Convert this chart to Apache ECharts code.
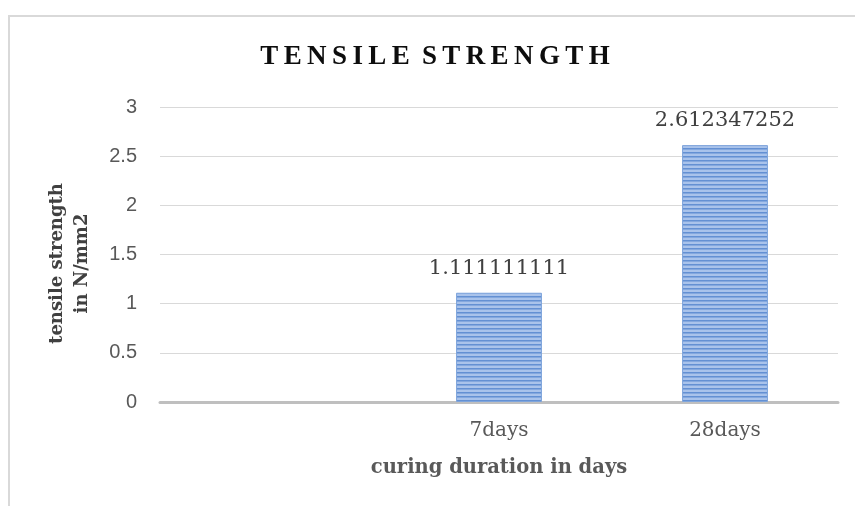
<!DOCTYPE html>
<html>
<head>
<meta charset="utf-8">
<script src="https://cdn.jsdelivr.net/npm/echarts@6/dist/echarts.min.js"></script>
<style>
  html, body { margin: 0; padding: 0; background: #fff; }
  #chart { width: 855px; height: 506px; }
</style>
</head>
<body>
<div id="chart"></div>
<script>
// chart data
var categories = ['', '7days', '28days']
var strengthValues = [null, 1.111111111, 2.612347252]
var yTicks = { min: 0, max: 3, interval: 0.5 }

// horizontal stripe fill like the original bars
function stripePattern() {
  var c = document.createElement('canvas')
  c.width = 4
  c.height = 4
  var ctx = c.getContext('2d')
  ctx.fillStyle = '#a9c3eb'
  ctx.fillRect(0, 0, 4, 4)
  ctx.fillStyle = '#6390d3'
  ctx.fillRect(0, 0, 4, 1)
  ctx.fillStyle = '#84a8de'
  ctx.fillRect(0, 1, 4, 1)
  return c
}

var chart = echarts.init(document.getElementById('chart'))
chart.setOption({
  animation: false,
  graphic: [{
    type: 'rect',
    shape: { x: 9, y: 16, width: 900, height: 600 },
    style: { fill: 'none', stroke: '#d9d9d9', lineWidth: 2 },
    silent: true
  }],
  title: {
    text: 'T\u2009E\u2009N\u2009S\u2009I\u2009L\u2009E \u2009S\u2009T\u2009R\u2009E\u2009N\u2009G\u2009T\u2009H',
    left: 430,
    top: 39,
    textAlign: 'center',
    textStyle: {
      fontFamily: 'Liberation Serif',
      fontWeight: 'bold',
      fontSize: 27,
      color: '#0d0d0d'
    }
  },
  grid: {
    left: 160,
    right: 17,
    top: 107,
    bottom: 104,
    containLabel: false
  },
  xAxis: {
    type: 'category',
    data: categories,
    name: 'curing duration in days',
    nameLocation: 'middle',
    nameGap: 56,
    nameTextStyle: {
      fontFamily: 'DejaVu Serif',
      fontWeight: 'bold',
      fontSize: 19.5,
      color: '#595959'
    },
    axisLine: { lineStyle: { color: '#bfbfbf', width: 3 } },
    axisTick: { show: false },
    axisLabel: {
      margin: 19,
      fontFamily: 'DejaVu Serif',
      fontSize: 20,
      color: '#595959'
    }
  },
  yAxis: {
    type: 'value',
    min: yTicks.min,
    max: yTicks.max,
    interval: yTicks.interval,
    name: 'tensile strength\nin N/mm2',
    nameLocation: 'middle',
    nameGap: 65,
    nameRotate: 90,
    nameTextStyle: {
      fontFamily: 'DejaVu Serif',
      fontWeight: 'bold',
      fontSize: 18,
      lineHeight: 25,
      color: '#404040',
      padding: [0, 18, 0, 0]
    },
    axisLine: { show: false },
    axisTick: { show: false },
    axisLabel: {
      margin: 23,
      fontFamily: 'Liberation Sans',
      fontSize: 20,
      color: '#595959'
    },
    splitLine: { lineStyle: { color: '#d9d9d9', width: 1 } }
  },
  series: [{
    type: 'bar',
    data: strengthValues,
    barWidth: '38%',
    itemStyle: {
      color: { image: stripePattern(), repeat: 'repeat' },
      borderColor: '#7fa5dc',
      borderWidth: 1
    },
    label: {
      show: true,
      position: 'top',
      distance: 14,
      fontFamily: 'DejaVu Serif',
      fontSize: 21,
      color: '#404040',
      formatter: function (p) { return p.value == null ? '' : String(p.value) }
    }
  }]
})
</script>
</body>
</html>
